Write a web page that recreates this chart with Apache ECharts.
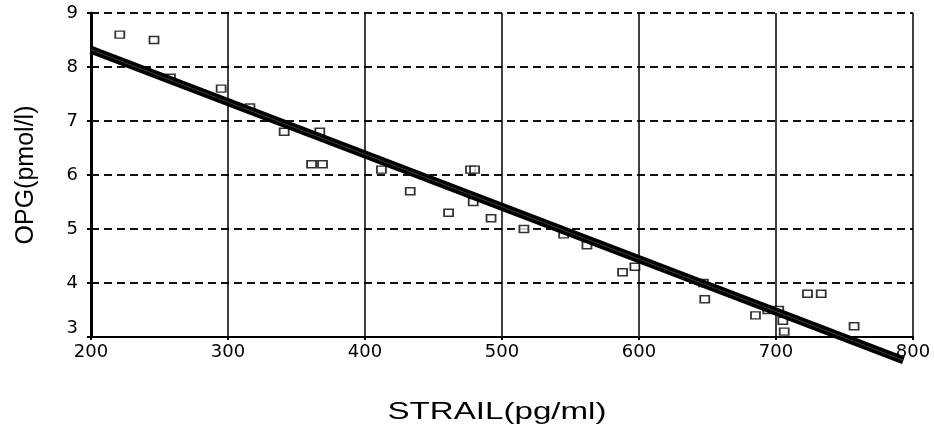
<!DOCTYPE html>
<html>
<head>
<meta charset="utf-8">
<script src="https://cdn.jsdelivr.net/npm/echarts@6/dist/echarts.min.js"></script>
<style>
  html, body { margin: 0; padding: 0; background: #ffffff; }
  #chart { width: 934px; height: 436px; }
</style>
</head>
<body>
<div id="chart"></div>
<script>
// Serum sTRAIL vs OPG measurements
const strail = [221, 246, 258, 295, 316, 341, 367, 361, 369, 412, 433, 477, 480, 461, 479,
                492, 516, 545, 562, 588, 597, 647, 648, 685, 694, 702, 705, 706, 723, 733, 757];
const opg    = [8.6, 8.5, 7.8, 7.6, 7.25, 6.8, 6.8, 6.2, 6.2, 6.1, 5.7, 6.1, 6.1, 5.3, 5.5,
                5.2, 5.0, 4.9, 4.7, 4.2, 4.3, 4.0, 3.7, 3.4, 3.5, 3.5, 3.3, 3.1, 3.8, 3.8, 3.2];

// Least-squares fit line end points
const fitX = [200, 793];
const fitY = [8.32, 2.57];

// Axis ticks
const xTicks = [200, 300, 400, 500, 600, 700, 800];
const yTicks = [3, 4, 5, 6, 7, 8, 9];

const points = strail.map((x, i) => [x, opg[i]]);
const fitLine = fitX.map((x, i) => [x, fitY[i]]);

const chart = echarts.init(document.getElementById('chart'), null, { renderer: 'canvas' });

chart.setOption({
  animation: false,
  backgroundColor: '#ffffff',
  grid: { left: 91, right: 21, top: 13, bottom: 99, containLabel: false, outerBoundsMode: 'none' },
  xAxis: {
    type: 'value',
    min: xTicks[0],
    max: xTicks[xTicks.length - 1],
    interval: xTicks[1] - xTicks[0],
    axisLine: { show: true, onZero: false, lineStyle: { color: '#000', width: 2 } },
    axisTick: { show: true, length: 3, lineStyle: { color: '#000', width: 2 } },
    axisLabel: { color: '#000', fontFamily: 'DejaVu Sans', fontSize: 18, margin: 6 },
    splitLine: { show: true, lineStyle: { color: '#000', width: 1.5, type: 'solid' } }
  },
  yAxis: {
    type: 'value',
    min: yTicks[0],
    max: yTicks[yTicks.length - 1],
    interval: yTicks[1] - yTicks[0],
    name: 'OPG(pmol/l)',
    nameLocation: 'middle',
    nameRotate: 90,
    nameGap: 52,
    nameTextStyle: { color: '#000', fontFamily: 'Liberation Sans', fontSize: 25 },
    axisLine: { show: true, onZero: false, lineStyle: { color: '#000', width: 3 } },
    axisTick: { show: true, length: 4, lineStyle: { color: '#000', width: 2 } },
    axisLabel: {
      color: '#000', fontFamily: 'DejaVu Sans', fontSize: 18, margin: 13,
      verticalAlignMinLabel: 'bottom'
    },
    splitLine: { show: true, lineStyle: { color: '#111', width: 2, type: [8, 5] } }
  },
  graphic: [{
    type: 'text',
    x: 497,
    y: 412,
    scaleX: 1.38,
    style: {
      text: 'STRAIL(pg/ml)',
      fill: '#000',
      font: '24px "Liberation Sans", Arial, sans-serif',
      textAlign: 'center',
      textVerticalAlign: 'middle'
    }
  }],
  series: [
    {
      type: 'scatter',
      data: points,
      symbol: 'rect',
      symbolSize: [9, 7],
      itemStyle: { color: '#fff', borderColor: '#000', borderWidth: 1.6 },
      z: 2
    },
    {
      type: 'line',
      data: fitLine,
      clip: false,
      showSymbol: false,
      symbol: 'none',
      lineStyle: { color: '#000', width: 8 },
      z: 3
    },
    {
      type: 'line',
      data: fitLine,
      clip: false,
      showSymbol: false,
      symbol: 'none',
      lineStyle: { color: '#555', width: 0.7 },
      z: 4
    }
  ]
});
</script>
</body>
</html>
